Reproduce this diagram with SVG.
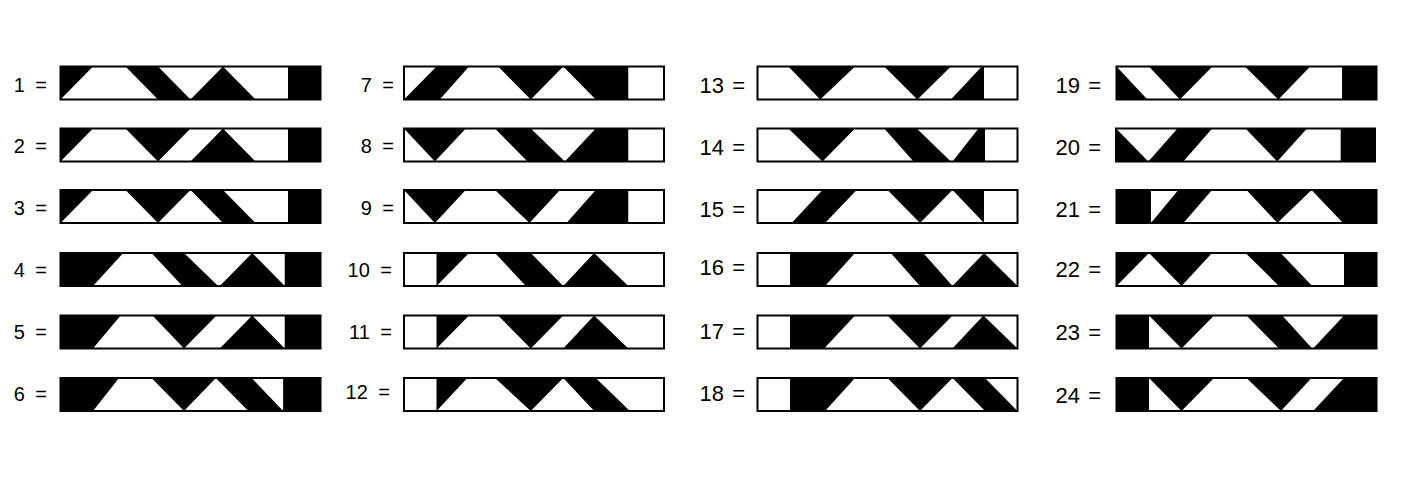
<svg xmlns="http://www.w3.org/2000/svg" width="1403" height="488" viewBox="0 0 1403 488">
<style>
.bg{fill:#fff}
.frame{fill:none;stroke:#000;stroke-width:2}
.blk{fill:#000}
.lbl{font-family:"Liberation Sans",Arial,sans-serif;font-size:20px;fill:#000;text-anchor:end;word-spacing:5px}
.lbl2{font-family:"Liberation Sans",Arial,sans-serif;font-size:22px;fill:#000;text-anchor:end;word-spacing:2px}
</style>
<rect width="1403" height="488" fill="#fff"/>
<!-- Column 1 -->
<g id="bar1"><text class="lbl" x="47" y="91.5">1 =</text><g transform="translate(60.5,66.5)"><rect class="bg" width="260" height="33"/><g class="blk" transform="scale(32.5,33)"><polygon points="0,0 1,0 0,1"/><polygon points="2,0 3,0 4,1 3,1"/><polygon points="4,1 5,0 6,1"/><polygon points="7,0 8,0 8,1 7,1"/></g><rect class="frame" width="260" height="33"/></g></g>
<g id="bar2"><text class="lbl" x="47" y="153">2 =</text><g transform="translate(60.5,128.5)"><rect class="bg" width="260" height="33"/><g class="blk" transform="scale(32.5,33)"><polygon points="0,0 1,0 0,1"/><polygon points="2,0 4,0 3,1"/><polygon points="4,1 5,0 6,1"/><polygon points="7,0 8,0 8,1 7,1"/></g><rect class="frame" width="260" height="33"/></g></g>
<g id="bar3"><text class="lbl" x="47" y="215">3 =</text><g transform="translate(60.5,190)"><rect class="bg" width="260" height="33"/><g class="blk" transform="scale(32.5,33)"><polygon points="0,0 1,0 0,1"/><polygon points="2,0 5,0 6,1 5,1 4,0 3,1"/><polygon points="7,0 8,0 8,1 7,1"/></g><rect class="frame" width="260" height="33"/></g></g>
<g id="bar4"><text class="lbl" x="47" y="277">4 =</text><g transform="translate(60.5,253)"><rect class="bg" width="260" height="33"/><g class="blk" transform="scale(32.5,33)"><polygon points="0,0 1.93,0 1,1 0,1"/><polygon points="2.8,0 3.8,0 4.85,1 3.75,1"/><polygon points="4.9,1 5.9,0 6.9,1"/><polygon points="6.9,0 8,0 8,1 6.9,1"/></g><rect class="frame" width="260" height="33"/></g></g>
<g id="bar5"><text class="lbl" x="47" y="339">5 =</text><g transform="translate(60.5,315.5)"><rect class="bg" width="260" height="33"/><g class="blk" transform="scale(32.5,33)"><polygon points="0,0 1.85,0 1,1 0,1"/><polygon points="2.83,0 4.8,0 3.8,1"/><polygon points="4.9,1 5.9,0 6.9,1"/><polygon points="6.9,0 8,0 8,1 6.9,1"/></g><rect class="frame" width="260" height="33"/></g></g>
<g id="bar6"><text class="lbl" x="47" y="401">6 =</text><g transform="translate(60.5,378)"><rect class="bg" width="260" height="33"/><g class="blk" transform="scale(32.5,33)"><polygon points="0,0 1.8,0 1,1 0,1"/><polygon points="2.8,0 5.88,0 6.85,1 5.78,1 4.78,0 3.8,1"/><polygon points="6.85,0 8,0 8,1 6.85,1"/></g><rect class="frame" width="260" height="33"/></g></g>
<!-- Column 2 -->
<g id="bar7"><text class="lbl" x="394" y="91.5">7 =</text><g transform="translate(404,66.5)"><rect class="bg" width="260" height="33"/><g class="blk" transform="scale(32.5,33)"><polygon points="1,0 2,0 1.1,1 0,1"/><polygon points="2.9,0 6.9,0 6.9,1 5.9,1 4.9,0 3.9,1"/></g><rect class="frame" width="260" height="33"/></g></g>
<g id="bar8"><text class="lbl" x="394" y="153">8 =</text><g transform="translate(404,128.5)"><rect class="bg" width="260" height="33"/><g class="blk" transform="scale(32.5,33)"><polygon points="0,0 1.9,0 0.95,1"/><polygon points="2.8,0 3.9,0 4.95,1 3.8,1"/><polygon points="4.95,1 5.9,0 6.9,0 6.9,1"/></g><rect class="frame" width="260" height="33"/></g></g>
<g id="bar9"><text class="lbl" x="394" y="215">9 =</text><g transform="translate(404,190)"><rect class="bg" width="260" height="33"/><g class="blk" transform="scale(32.5,33)"><polygon points="0,0 1.9,0 0.95,1"/><polygon points="2.8,0 4.8,0 3.86,1"/><polygon points="5,1 5.9,0 6.9,0 6.9,1"/></g><rect class="frame" width="260" height="33"/></g></g>
<g id="bar10"><text class="lbl" x="392" y="277">10 =</text><g transform="translate(404,253)"><rect class="bg" width="260" height="33"/><g class="blk" transform="scale(32.5,33)"><polygon points="1,0 2,0 1,1"/><polygon points="2.8,0 3.9,0 4.9,1 3.75,1"/><polygon points="4.9,1 5.85,0 6.9,1"/></g><rect class="frame" width="260" height="33"/></g></g>
<g id="bar11"><text class="lbl" x="392" y="339">11 =</text><g transform="translate(404,315.5)"><rect class="bg" width="260" height="33"/><g class="blk" transform="scale(32.5,33)"><polygon points="1,0 2,0 1,1"/><polygon points="2.9,0 4.9,0 3.9,1"/><polygon points="4.9,1 5.85,0 6.9,1"/></g><rect class="frame" width="260" height="33"/></g></g>
<g id="bar12"><text class="lbl" x="390" y="399">12 =</text><g transform="translate(404,378)"><rect class="bg" width="260" height="33"/><g class="blk" transform="scale(32.5,33)"><polygon points="1,0 1.95,0 1,1"/><polygon points="2.8,0 5.9,0 6.95,1 5.85,1 4.9,0 3.9,1"/></g><rect class="frame" width="260" height="33"/></g></g>
<!-- Column 3 -->
<g id="bar13"><text class="lbl2" x="745" y="93">13 =</text><g transform="translate(757.5,66.5)"><rect class="bg" width="260" height="33"/><g class="blk" transform="scale(32.5,33)"><polygon points="0.95,0 3,0 1.93,1"/><polygon points="3.9,0 5.95,0 4.92,1"/><polygon points="6.9,0 6.97,0 6.97,1 5.95,1"/></g><rect class="frame" width="260" height="33"/></g></g>
<g id="bar14"><text class="lbl2" x="745" y="155">14 =</text><g transform="translate(757.5,128.5)"><rect class="bg" width="260" height="33"/><g class="blk" transform="scale(32.5,33)"><polygon points="0.95,0 3,0 2,1"/><polygon points="3.9,0 4.9,0 5.95,1 4.8,1"/><polygon points="6.8,0 7,0 7,1 6,1"/></g><rect class="frame" width="260" height="33"/></g></g>
<g id="bar15"><text class="lbl2" x="745" y="217">15 =</text><g transform="translate(757.5,190)"><rect class="bg" width="260" height="33"/><g class="blk" transform="scale(32.5,33)"><polygon points="2,0 3.05,0 2.08,1 1.05,1"/><polygon points="4,0 6,0 5,1"/><polygon points="6,0 6.97,0 6.97,1"/></g><rect class="frame" width="260" height="33"/></g></g>
<g id="bar16"><text class="lbl2" x="745" y="275">16 =</text><g transform="translate(757.5,253)"><rect class="bg" width="260" height="33"/><g class="blk" transform="scale(32.5,33)"><polygon points="1,0 3,0 2.08,1 1,1"/><polygon points="4.1,0 5.1,0 6,1 5,1"/><polygon points="6,1 6.97,0 8,1"/></g><rect class="frame" width="260" height="33"/></g></g>
<g id="bar17"><text class="lbl2" x="745" y="339">17 =</text><g transform="translate(757.5,315.5)"><rect class="bg" width="260" height="33"/><g class="blk" transform="scale(32.5,33)"><polygon points="1,0 3,0 2.05,1 1,1"/><polygon points="4,0 6,0 5,1"/><polygon points="6,1 6.95,0 8,1"/></g><rect class="frame" width="260" height="33"/></g></g>
<g id="bar18"><text class="lbl2" x="745" y="401">18 =</text><g transform="translate(757.5,378)"><rect class="bg" width="260" height="33"/><g class="blk" transform="scale(32.5,33)"><polygon points="1,0 3,0 2.08,1 1,1"/><polygon points="4,0 7,0 8,1 7,1 6,0 5,1"/></g><rect class="frame" width="260" height="33"/></g></g>
<!-- Column 4 -->
<g id="bar19"><text class="lbl2" x="1101" y="93">19 =</text><g transform="translate(1116.5,66.5)"><rect class="bg" width="260" height="33"/><g class="blk" transform="scale(32.5,33)"><polygon points="0,0 0.95,1 0,1"/><polygon points="1,0 2.95,0 1.95,1"/><polygon points="3.95,0 5.96,0 4.98,1"/><polygon points="6.94,0 8,0 8,1 6.94,1"/></g><rect class="frame" width="260" height="33"/></g></g>
<g id="bar20"><text class="lbl2" x="1101" y="155">20 =</text><g transform="translate(1116,128.5)"><rect class="bg" width="259" height="33"/><g class="blk" transform="scale(32.375,33)"><polygon points="0,0 1,1 0,1"/><polygon points="1.9,0 2.97,0 2.08,1 1,1"/><polygon points="4,0 5.9,0 4.98,1"/><polygon points="6.94,0 8,0 8,1 6.94,1"/></g><rect class="frame" width="259" height="33"/></g></g>
<g id="bar21"><text class="lbl2" x="1101" y="217">21 =</text><g transform="translate(1116.5,190)"><rect class="bg" width="260" height="33"/><g class="blk" transform="scale(32.5,33)"><polygon points="0,0 1.06,0 1.06,1 0,1"/><polygon points="1.9,0 2.94,0 2.06,1 1.06,1"/><polygon points="4,0 6,0 4.95,1"/><polygon points="6,0 8,0 8,1 6.97,1"/></g><rect class="frame" width="260" height="33"/></g></g>
<g id="bar22"><text class="lbl2" x="1101" y="277">22 =</text><g transform="translate(1116.5,253)"><rect class="bg" width="260" height="33"/><g class="blk" transform="scale(32.5,33)"><polygon points="0,0 1,0 0,1"/><polygon points="1,0 2.94,0 2,1"/><polygon points="3.97,0 5.05,0 6.02,1 5,1"/><polygon points="7,0 8,0 8,1 7,1"/></g><rect class="frame" width="260" height="33"/></g></g>
<g id="bar23"><text class="lbl2" x="1101" y="340">23 =</text><g transform="translate(1116.5,315.5)"><rect class="bg" width="260" height="33"/><g class="blk" transform="scale(32.5,33)"><polygon points="0,0 1,0 1,1 0,1"/><polygon points="1,0 3,0 2,1"/><polygon points="4,0 5.1,0 6.02,1 5,1"/><polygon points="7,0 8,0 8,1 6.05,1"/></g><rect class="frame" width="260" height="33"/></g></g>
<g id="bar24"><text class="lbl2" x="1101" y="403">24 =</text><g transform="translate(1116.5,378)"><rect class="bg" width="260" height="33"/><g class="blk" transform="scale(32.5,33)"><polygon points="0,0 1,0 1,1 0,1"/><polygon points="1,0 3,0 2,1"/><polygon points="4,0 6,0 5.06,1"/><polygon points="7,0 8,0 8,1 6.05,1"/></g><rect class="frame" width="260" height="33"/></g></g>
<g id="connectors"/>
</svg>
